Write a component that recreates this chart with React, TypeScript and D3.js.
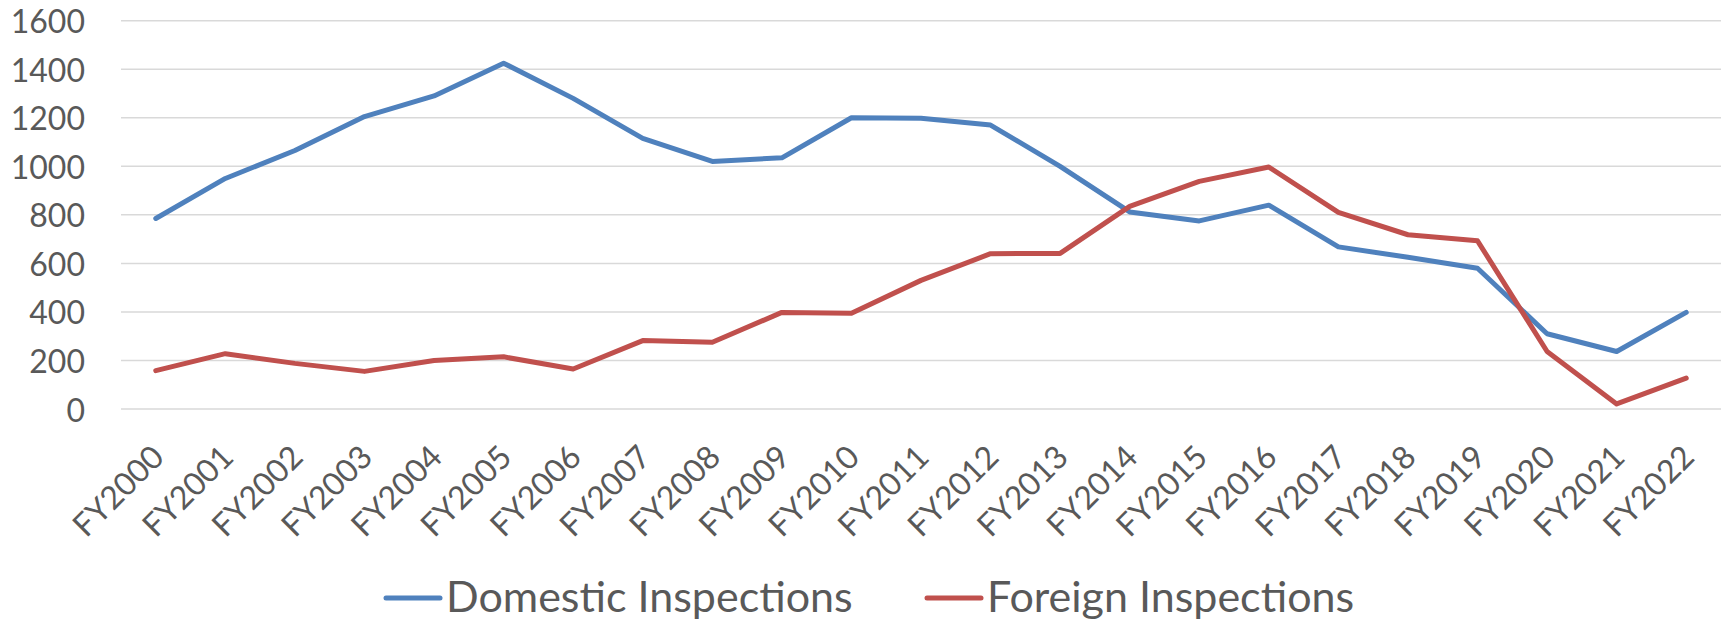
import { useEffect, useRef } from "react";
import * as d3 from "d3";

const categories = [
  "FY2000", "FY2001", "FY2002", "FY2003", "FY2004", "FY2005", "FY2006", "FY2007",
  "FY2008", "FY2009", "FY2010", "FY2011", "FY2012", "FY2013", "FY2014", "FY2015",
  "FY2016", "FY2017", "FY2018", "FY2019", "FY2020", "FY2021", "FY2022",
];

const domestic = [
  785, 950, 1065, 1205, 1290, 1425, 1280, 1115, 1020, 1035, 1200, 1198,
  1170, 1000, 812, 775, 840, 668, 625, 580, 310, 237, 398,
];

const foreign = [
  158, 228, 188, 155, 200, 215, 165, 282, 275, 398, 395, 530,
  640, 641, 835, 938, 997, 810, 718, 693, 237, 21, 127,
];

const yTicks = [0, 200, 400, 600, 800, 1000, 1200, 1400, 1600];

const series = [
  { name: "Domestic Inspections", values: domestic, color: "#4F81BD" },
  { name: "Foreign Inspections", values: foreign, color: "#C0504D" },
];

const FONT = "Lato, 'Open Sans', sans-serif";
const TEXT = "#595959";

export default function App() {
  const svgRef = useRef<SVGSVGElement>(null);

  useEffect(() => {
    if (!svgRef.current) return;
    const svg = d3.select(svgRef.current);
    svg.selectAll("*").remove();

    const plot = { left: 121, right: 1721, top: 20.7, bottom: 409 };

    const x = d3.scaleBand<string>().domain(categories).range([plot.left, plot.right]).padding(0);
    const cx = (c: string) => (x(c) ?? 0) + x.bandwidth() / 2;
    const y = d3.scaleLinear().domain([0, 1600]).range([plot.bottom, plot.top]);

    // horizontal gridlines
    svg
      .append("g")
      .selectAll("line")
      .data(yTicks)
      .enter()
      .append("line")
      .attr("x1", plot.left)
      .attr("x2", plot.right)
      .attr("y1", (d) => y(d))
      .attr("y2", (d) => y(d))
      .attr("stroke", "#D9D9D9")
      .attr("stroke-width", 1.5);

    // y labels
    svg
      .append("g")
      .selectAll("text")
      .data(yTicks)
      .enter()
      .append("text")
      .attr("x", 85)
      .attr("y", (d) => y(d))
      .attr("text-anchor", "end")
      .attr("dominant-baseline", "central")
      .style("font-family", FONT)
      .style("font-size", "32px")
      .style("fill", TEXT)
      .text((d) => String(d));

    // x labels, rotated 45deg
    svg
      .append("g")
      .selectAll("text")
      .data(categories)
      .enter()
      .append("text")
      .attr("transform", (d) => `translate(${cx(d) + 10}, ${plot.bottom + 50}) rotate(-45)`)
      .attr("text-anchor", "end")
      .style("font-family", FONT)
      .style("font-size", "32px")
      .style("fill", TEXT)
      .text((d) => d);

    const line = d3
      .line<number>()
      .x((_, i) => cx(categories[i]))
      .y((d) => y(d));

    series.forEach((s) => {
      svg
        .append("path")
        .attr("d", line(s.values))
        .attr("fill", "none")
        .attr("stroke", s.color)
        .attr("stroke-width", 5)
        .attr("stroke-linejoin", "round")
        .attr("stroke-linecap", "round");
    });

    // legend
    const legendY = 598;
    const legendX = [386, 927];
    series.forEach((s, i) => {
      const g = svg.append("g").attr("transform", `translate(${legendX[i]}, ${legendY})`);
      g.append("line")
        .attr("x1", 0)
        .attr("x2", 54)
        .attr("stroke", s.color)
        .attr("stroke-width", 5)
        .attr("stroke-linecap", "round");
      g.append("text")
        .attr("x", 60)
        .attr("y", 14)
        .style("font-family", FONT)
        .style("font-size", "43px")
        .style("fill", TEXT)
        .text(s.name);
    });
  }, []);

  return (
    <svg
      ref={svgRef}
      width={1721}
      height={621}
      style={{ position: "absolute", left: 0, top: 0, background: "#fff" }}
    />
  );
}
